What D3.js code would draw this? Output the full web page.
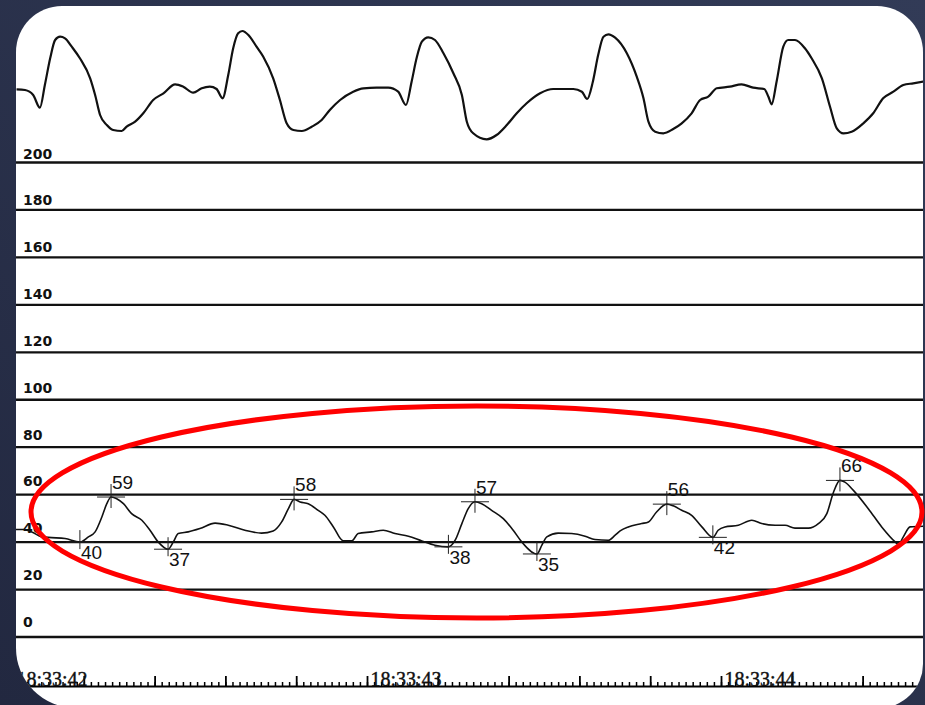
<!DOCTYPE html>
<html>
<head>
<meta charset="utf-8">
<script src="https://cdn.jsdelivr.net/npm/d3@7"></script>
<style>
  html, body { margin: 0; padding: 0; background: #262d44; }
  svg { display: block; }
</style>
</head>
<body>
<svg id="chart" width="925" height="705"></svg>
<script>
// times are milliseconds after 18:33:42.000

var yTicks = [0, 20, 40, 60, 80, 100, 120, 140, 160, 180, 200];

// upper trace, [ms, value]
var topTrace = [
  [10, 55.7], [34, 55], [57, 50], [76, 37.3], [90, 60], [105, 86.7], [119, 105], [133, 108.3],
  [147, 106.7], [166, 98.3], [189, 86.7], [218, 66.7], [232, 50], [246, 30], [265, 20], [283, 15],
  [307, 14], [321, 18.3], [345, 23.3], [368, 31.7], [396, 45], [425, 51.7], [458, 60.7], [481, 58.3],
  [509, 52.3], [533, 56.7], [556, 58.3], [575, 56], [592, 46.7], [608, 70], [622, 96.7], [636, 111.7],
  [648, 114], [665, 110], [688, 98.3], [707, 88.3], [735, 66.7], [754, 45], [773, 21.7], [792, 15],
  [816, 14], [844, 18.3], [872, 25], [895, 35], [924, 45], [961, 53.3], [990, 56.7], [1027, 57.3],
  [1060, 57.3], [1088, 53.3], [1110, 40], [1126, 63.3], [1140, 86.7], [1155, 103.3], [1173, 107.7],
  [1192, 105], [1216, 91.7], [1244, 71.7], [1268, 50], [1282, 23.3], [1300, 11.7], [1338, 5.7],
  [1366, 10], [1395, 20], [1423, 31.7], [1451, 41.7], [1489, 51.7], [1526, 56], [1583, 56],
  [1607, 53.3], [1622, 46], [1638, 63.3], [1653, 90], [1668, 108.3], [1682, 110.7], [1701, 107.3],
  [1734, 91.7], [1762, 68.3], [1781, 46.7], [1795, 23.3], [1814, 13.3], [1837, 11.7], [1865, 16],
  [1889, 21.7], [1917, 31.7], [1941, 45], [1964, 48.3], [1988, 56.7], [2025, 58.3], [2058, 60.7],
  [2091, 57.3], [2122, 56], [2134, 48.3], [2143, 40.7], [2157, 63.3], [2176, 98.3], [2190, 105],
  [2209, 105], [2237, 96.7], [2256, 86.7], [2285, 66.7], [2308, 38.3], [2327, 16.7], [2346, 11.7],
  [2369, 13.3], [2402, 21.7], [2430, 31.7], [2458, 46.7], [2487, 53.3], [2515, 60], [2543, 61.7],
  [2571, 63.3]
];

// lower pressure trace, [ms, mmHg]
var lowerTrace = [
  [6, 45.3], [29, 45.3], [53, 44.3], [81, 42.2], [109, 41.9], [147, 41.5], [189, 40], [213, 42.2],
  [232, 44.3], [251, 50.6], [265, 56.2], [277, 59], [293, 58.3], [312, 56.2], [335, 52], [364, 49.2],
  [387, 45], [410, 40.1], [438, 37], [453, 40.1], [467, 43.6], [495, 44.3], [528, 45.7], [571, 48],
  [608, 47.1], [655, 45], [702, 43.8], [735, 44.7], [759, 48.5], [778, 54.1], [794, 58], [811, 56.9],
  [834, 56.2], [862, 53.4], [881, 51.3], [905, 46.4], [933, 40.5], [957, 40.5], [975, 43.6],
  [1013, 44.3], [1046, 45], [1079, 43.6], [1117, 42.5], [1155, 40.5], [1192, 38.7], [1230, 38],
  [1249, 40.8], [1268, 47.8], [1286, 54.1], [1305, 57], [1324, 56.2], [1352, 53.4], [1385, 49.9],
  [1413, 45], [1437, 40.1], [1480, 35], [1494, 38.7], [1508, 42.2], [1540, 43.8], [1578, 43.6],
  [1616, 42.5], [1644, 41.1], [1682, 40.8], [1701, 42.9], [1715, 44.7], [1738, 46.4], [1776, 47.8],
  [1795, 48.5], [1818, 52.7], [1847, 56], [1865, 55.3], [1889, 53.4], [1917, 51.3], [1946, 46.4],
  [1977, 42], [1992, 45], [2011, 46.4], [2049, 47.1], [2087, 49.2], [2115, 47.8], [2153, 47.1],
  [2181, 47.1], [2209, 45.9], [2247, 45.9], [2275, 47.8], [2299, 52], [2318, 61.1], [2336, 66],
  [2350, 65.3], [2374, 61.8], [2416, 54.1], [2454, 46.4], [2492, 40.1], [2501, 39], [2515, 42.2],
  [2534, 46.4], [2576, 46.7]
];

// marked peaks and troughs
var extremeMs     = [189, 277, 438, 794, 1230, 1305, 1480, 1847, 1977, 2336];
var extremeValues = [40, 59, 37, 58, 38, 57, 35, 56, 42, 66];
var extremeKinds  = ["min", "max", "min", "max", "min", "max", "min", "max", "min", "max"];

/****** scales ******/
var svg = d3.select("#chart");
var base = new Date(2000, 0, 1, 18, 33, 42);
function at(ms) { return new Date(+base + ms); }

var pxPerMs = 0.354, originX = 13;
var x = d3.scaleTime()
    .domain([at(-100), at(2650)])
    .range([originX - 100 * pxPerMs, originX + 2650 * pxPerMs]);
var y = d3.scaleLinear().domain([0, 200]).range([637, 162.5]);
var yLabel = d3.scaleLinear().domain([0, 200]).range([627, 158.5]);
var yTop = d3.scaleLinear().domain([0, 110]).range([145, 35]);

// paper card, corner radii: top-left, top-right, bottom-right, bottom-left
var card = {x0: 16, y0: 6, x1: 923, y1: 708, r: [46, 46, 44, 60]};

function cardPath(c) {
  var p = d3.path(), r = c.r;
  p.moveTo(c.x0 + r[0], c.y0);
  p.lineTo(c.x1 - r[1], c.y0);
  p.arcTo(c.x1, c.y0, c.x1, c.y0 + r[1], r[1]);
  p.lineTo(c.x1, c.y1 - r[2]);
  p.arcTo(c.x1, c.y1, c.x1 - r[2], c.y1, r[2]);
  p.lineTo(c.x0 + r[3], c.y1);
  p.arcTo(c.x0, c.y1, c.x0, c.y1 - r[3], r[3]);
  p.lineTo(c.x0, c.y0 + r[0]);
  p.arcTo(c.x0, c.y0, c.x0 + r[0], c.y0, r[0]);
  p.closePath();
  return p.toString();
}

/****** background and card ******/
var defs = svg.append("defs");
var grad = defs.append("linearGradient").attr("id", "bg")
    .attr("x1", "0").attr("y1", "1").attr("x2", "1").attr("y2", "0");
grad.append("stop").attr("offset", "0").attr("stop-color", "#222840");
grad.append("stop").attr("offset", "1").attr("stop-color", "#323b57");

defs.append("clipPath").attr("id", "cardClip")
  .append("path").attr("d", cardPath(card));

svg.append("rect").attr("width", 925).attr("height", 705).attr("fill", "url(#bg)");
svg.append("path").attr("d", cardPath(card)).attr("fill", "#ffffff");

var paper = svg.append("g").attr("clip-path", "url(#cardClip)");

/****** grid lines + labels ******/
paper.selectAll("line.grid")
  .data(yTicks)
  .enter().append("line")
    .attr("class", "grid")
    .attr("x1", card.x0).attr("x2", card.x1)
    .attr("y1", function (d) { return y(d); })
    .attr("y2", function (d) { return y(d); })
    .attr("stroke", "#111")
    .attr("stroke-width", 2.3);

paper.selectAll("text.ylab")
  .data(yTicks)
  .enter().append("text")
    .attr("class", "ylab")
    .attr("x", 23)
    .attr("y", function (d) { return yLabel(d); })
    .attr("font-family", "DejaVu Sans, Verdana, sans-serif")
    .attr("font-weight", "bold")
    .attr("font-size", 14)
    .attr("fill", "#111")
    .text(function (d) { return d; });

/****** traces ******/
var topLine = d3.line()
    .x(function (d) { return x(at(d[0])); })
    .y(function (d) { return yTop(d[1]); })
    .curve(d3.curveMonotoneX);

var lowLine = d3.line()
    .x(function (d) { return x(at(d[0])); })
    .y(function (d) { return y(d[1]); })
    .curve(d3.curveMonotoneX);

paper.append("path")
    .datum(topTrace)
    .attr("d", topLine)
    .attr("fill", "none")
    .attr("stroke", "#111")
    .attr("stroke-width", 2.2)
    .attr("stroke-linejoin", "round");

paper.append("path")
    .datum(lowerTrace)
    .attr("d", lowLine)
    .attr("fill", "none")
    .attr("stroke", "#111")
    .attr("stroke-width", 1.6)
    .attr("stroke-linejoin", "round");

/****** peak / trough markers ******/
var marks = extremeMs.map(function (ms, i) {
  return {ms: ms, v: extremeValues[i], kind: extremeKinds[i]};
});

var mk = paper.selectAll("g.mark")
  .data(marks)
  .enter().append("g")
    .attr("class", "mark")
    .attr("transform", function (d) {
      return "translate(" + x(at(d.ms)) + "," + y(d.v) + ")";
    });

mk.append("line")
    .attr("x1", -14).attr("x2", 14).attr("y1", 0).attr("y2", 0)
    .attr("stroke", "#222").attr("stroke-width", 1);
mk.append("line")
    .attr("x1", 0).attr("x2", 0)
    .attr("y1", function (d) { return d.kind == "max" ? -13 : -12; })
    .attr("y2", function (d) { return d.kind == "max" ? 11 : 7; })
    .attr("stroke", "#222").attr("stroke-width", 1);
mk.append("text")
    .attr("x", 1)
    .attr("y", function (d) { return d.kind == "max" ? -8 : 17; })
    .attr("font-family", "Liberation Sans, Arial, sans-serif")
    .attr("font-size", 19)
    .attr("fill", "#111")
    .text(function (d) { return d.v; });

/****** time axis ******/
var axisY = 686;

var minorAxis = d3.axisTop(x)
    .ticks(d3.timeMillisecond.every(20))
    .tickSize(4).tickSizeOuter(0).tickFormat("");
var majorAxis = d3.axisTop(x)
    .ticks(d3.timeMillisecond.every(200))
    .tickSize(10).tickSizeOuter(0).tickFormat("");
var secAxis = d3.axisTop(x)
    .ticks(d3.timeSecond.every(1))
    .tickSize(0).tickFormat(d3.timeFormat("%H:%M:%S"));

var gMinor = paper.append("g").attr("transform", "translate(0," + axisY + ")").call(minorAxis);
gMinor.select(".domain").attr("stroke-width", 2.2);
gMinor.selectAll(".tick line").attr("stroke-width", 1.5);

var gMajor = paper.append("g").attr("transform", "translate(0," + axisY + ")").call(majorAxis);
gMajor.select(".domain").remove();
gMajor.selectAll(".tick line").attr("stroke-width", 1.8);

var gSec = paper.append("g").attr("transform", "translate(0," + axisY + ")").call(secAxis);
gSec.select(".domain").remove();
gSec.attr("font-family", "Liberation Serif, Times New Roman, serif").attr("font-size", 20);
gSec.selectAll(".tick text")
    .attr("x", 3).attr("y", 0).attr("dy", 0)
    .attr("text-anchor", "start")
    .attr("fill", "#111")
    .attr("stroke", "#111").attr("stroke-width", 0.4);

/****** red ellipse ******/
svg.append("ellipse")
    .attr("cx", 476.5).attr("cy", 512)
    .attr("rx", 445.5).attr("ry", 106)
    .attr("fill", "none")
    .attr("stroke", "#ff0000")
    .attr("stroke-width", 5);
</script>
</body>
</html>
